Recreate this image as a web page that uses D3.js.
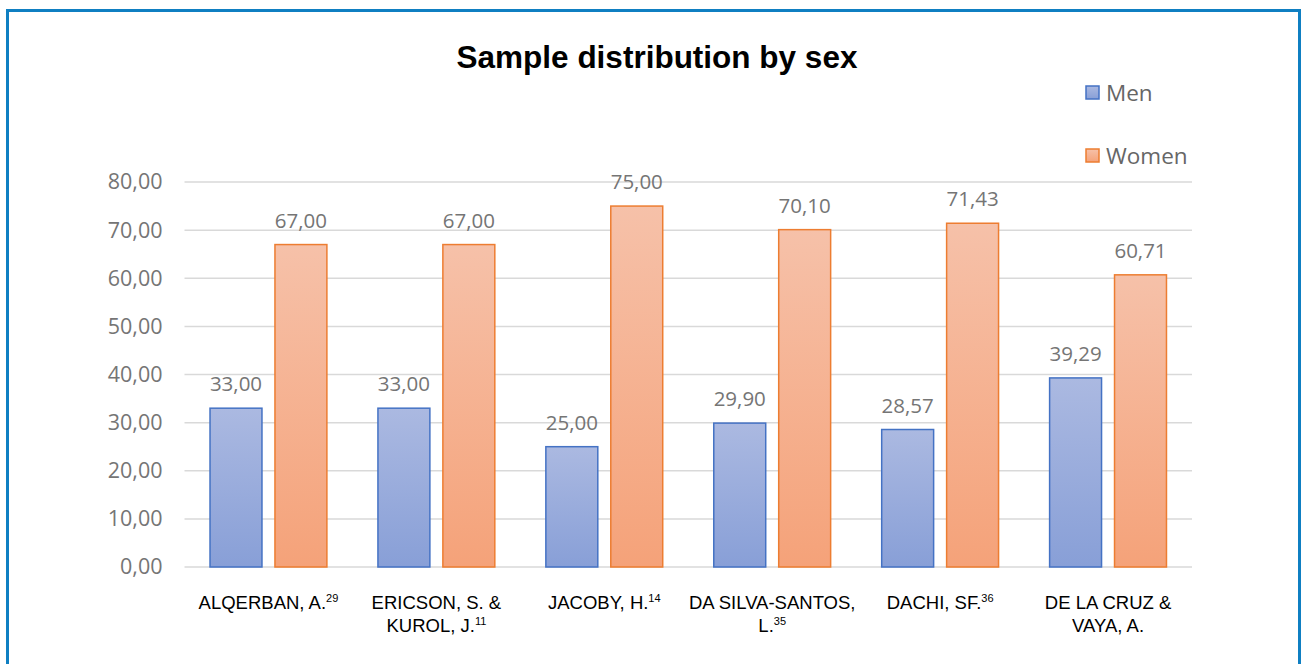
<!DOCTYPE html>
<html>
<head>
<meta charset="utf-8">
<script src="https://cdn.jsdelivr.net/npm/d3@7"></script>
<style>
  html, body { margin: 0; padding: 0; background: #fff; }
  svg { display: block; }
</style>
</head>
<body>
<div id="chart"></div>
<script>
// data
const categories = ["ALQERBAN", "ERICSON", "JACOBY", "DA SILVA-SANTOS", "DACHI", "DE LA CRUZ"];
// each label: lines of [text, superscript]
const catLabels = [
  [["ALQERBAN, A.", "29"]],
  [["ERICSON, S. &", ""], ["KUROL, J.", "11"]],
  [["JACOBY, H.", "14"]],
  [["DA SILVA-SANTOS,", ""], ["L.", "35"]],
  [["DACHI, SF.", "36"]],
  [["DE LA CRUZ &", ""], ["VAYA, A.", ""]]
];
const series = ["Men", "Women"];
const men = [33.00, 33.00, 25.00, 29.90, 28.57, 39.29];
const women = [67.00, 67.00, 75.00, 70.10, 71.43, 60.71];
const yTicks = [0, 10, 20, 30, 40, 50, 60, 70, 80];

const W = 1301, H = 664;
const plot = {left: 184.5, right: 1192, top: 182, bottom: 567};
const fmt = v => d3.format(".2f")(v).replace(".", ",");

const svg = d3.select("#chart").append("svg")
  .attr("width", W).attr("height", H);

// gradients
const defs = svg.append("defs");
const grads = [
  {id: "gMen", top: "#abb9e1", bot: "#889fd7"},
  {id: "gWomen", top: "#f6c1a9", bot: "#f5a279"}
];
grads.forEach(g => {
  const lg = defs.append("linearGradient").attr("id", g.id)
    .attr("x1", 0).attr("y1", 0).attr("x2", 0).attr("y2", 1);
  lg.append("stop").attr("offset", "0%").attr("stop-color", g.top);
  lg.append("stop").attr("offset", "100%").attr("stop-color", g.bot);
});
const fills = {Men: "url(#gMen)", Women: "url(#gWomen)"};
const strokes = {Men: "#4472c4", Women: "#ed7d31"};

// outer frame
svg.append("rect")
  .attr("x", 7.5).attr("y", 10.5)
  .attr("width", 1292).attr("height", 700)
  .attr("fill", "none")
  .attr("stroke", "#0f7fc2")
  .attr("stroke-width", 3);

// title
svg.append("text")
  .attr("x", 657).attr("y", 68)
  .attr("text-anchor", "middle")
  .style("font-family", "'Liberation Sans', Arial, sans-serif")
  .style("font-weight", "700")
  .style("font-size", "31.5px")
  .style("fill", "#000")
  .text("Sample distribution by sex");

// scales
const x0 = d3.scaleBand()
  .domain(categories)
  .range([plot.left, plot.right])
  .paddingInner(0.304)
  .paddingOuter(0.152);
const x1 = d3.scaleBand()
  .domain(series)
  .range([0, x0.bandwidth()])
  .paddingInner(0.2);
const y = d3.scaleLinear()
  .domain([0, 80])
  .range([plot.bottom, plot.top]);

// grid lines
svg.append("g")
  .selectAll("line")
  .data(yTicks)
  .join("line")
  .attr("x1", plot.left).attr("x2", plot.right)
  .attr("y1", d => y(d)).attr("y2", d => y(d))
  .attr("stroke", "#d9d9d9")
  .attr("stroke-width", 1.5);

// y axis labels
const yAxis = svg.append("g")
  .attr("transform", `translate(${plot.left - 22},0)`)
  .call(d3.axisLeft(y).tickValues(yTicks).tickFormat(fmt).tickSize(0).tickPadding(0));
yAxis.select(".domain").remove();
yAxis.selectAll("text")
  .style("font-family", "'Open Sans', sans-serif")
  .style("font-size", "21.5px")
  .attr("fill", "#757575");

// bars
const rows = categories.map((c, i) => ({cat: c, Men: men[i], Women: women[i]}));
const groups = svg.append("g")
  .selectAll("g")
  .data(rows)
  .join("g")
  .attr("transform", d => `translate(${x0(d.cat)},0)`);

const bars = groups.selectAll("g.bar")
  .data(d => series.map(s => ({key: s, value: d[s]})))
  .join("g").attr("class", "bar");

bars.append("rect")
  .attr("x", d => x1(d.key))
  .attr("y", d => y(d.value))
  .attr("width", x1.bandwidth())
  .attr("height", d => y(0) - y(d.value))
  .attr("fill", d => fills[d.key])
  .attr("stroke", d => strokes[d.key])
  .attr("stroke-width", 1.5);

bars.append("text")
  .attr("x", d => x1(d.key) + x1.bandwidth() / 2)
  .attr("y", d => y(d.value) - 17)
  .attr("text-anchor", "middle")
  .style("font-family", "'Open Sans', sans-serif")
  .style("font-size", "20.5px")
  .style("fill", "#757575")
  .text(d => fmt(d.value));

// category labels
const catG = svg.append("g")
  .selectAll("text")
  .data(categories)
  .join("text")
  .attr("text-anchor", "middle")
  .attr("transform", d => `translate(${x0(d) + x0.bandwidth() / 2},0)`)
  .style("font-family", "'Liberation Sans', Arial, sans-serif")
  .style("font-size", "18.5px")
  .style("fill", "#000");

catG.each(function(d, i) {
  const t = d3.select(this);
  catLabels[i].forEach((line, j) => {
    t.append("tspan")
      .attr("x", 0)
      .attr("y", 609 + j * 23)
      .text(line[0]);
    if (line[1]) {
      t.append("tspan")
        .attr("dy", -7)
        .style("font-size", "11px")
        .text(line[1]);
    }
  });
});

// legend
const legend = svg.append("g")
  .selectAll("g")
  .data(series)
  .join("g")
  .attr("transform", (d, i) => `translate(1086,${86 + i * 63})`);
legend.append("rect")
  .attr("width", 13).attr("height", 13)
  .attr("fill", d => fills[d])
  .attr("stroke", d => strokes[d])
  .attr("stroke-width", 1.5);
legend.append("text")
  .attr("x", 20).attr("y", 15)
  .style("font-family", "'Open Sans', sans-serif")
  .style("font-size", "22.5px")
  .style("fill", "#666")
  .text(d => d);
</script>
</body>
</html>
